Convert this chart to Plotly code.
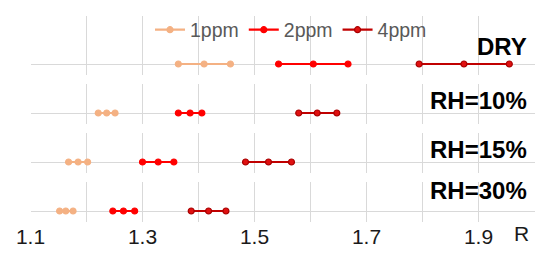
import plotly.graph_objects as go

# ---------------- data ----------------
conditions = ["DRY", "RH=10%", "RH=15%", "RH=30%"]
series_names = ["1ppm", "2ppm", "4ppm"]
r_1ppm = [[1.364, 1.410, 1.457], [1.221, 1.236, 1.251], [1.168, 1.185, 1.202], [1.152, 1.163, 1.176]]
r_2ppm = [[1.543, 1.605, 1.667], [1.364, 1.385, 1.406], [1.300, 1.328, 1.356], [1.247, 1.266, 1.286]]
r_4ppm = [[1.794, 1.874, 1.955], [1.579, 1.612, 1.647], [1.484, 1.525, 1.566], [1.387, 1.418, 1.449]]
tick_vals = [1.1, 1.2, 1.3, 1.4, 1.5, 1.6, 1.7, 1.8, 1.9, 2.0]
tick_text = ["1.1", "", "1.3", "", "1.5", "", "1.7", "", "1.9", ""]
axis_title = "R"

# ---------------- styling ----------------
# the page body has an 8px margin, so the figure sits at (8, 8) in the window
OFF = 8
W, H = 550 - OFF, 256 - OFF
series_data = [r_1ppm, r_2ppm, r_4ppm]
line_colors = ["#F4B183", "#FF0000", "#C00000"]
marker_fill = ["#F4B183", "#FF0000", "#E01010"]
marker_line = ["#F4B183", "#FF0000", "#A80000"]
GRID = "#D9D9D9"
FONT = "Liberation Sans, Arial, sans-serif"


def px(x):
    return (x - OFF) / W


def py(y):
    return 1 - (y - OFF) / H


# panel window-pixel extents (top, bottom, baseline)
panels = [(16, 75, 64), (84, 124, 113), (133, 173, 162), (182, 222, 211)]
label_y = [47, 100, 149, 190]
x_left, x_right = 30.5, 534.5

fig = go.Figure()
for p, cond in enumerate(conditions):
    ax = "" if p == 0 else str(p + 1)
    for s, name in enumerate(series_names):
        fig.add_trace(go.Scatter(
            x=series_data[s][p], y=[0] * len(series_data[s][p]),
            xaxis="x" + ax, yaxis="y" + ax,
            mode="lines+markers", name=name, showlegend=(p == 0),
            line=dict(color=line_colors[s], width=2.2),
            marker=dict(size=6, color=marker_fill[s],
                        line=dict(color=marker_line[s], width=1.2)),
            hoverinfo="x",
        ))
    top, bot, base = panels[p]
    fig.layout["xaxis" + ax] = dict(
        domain=[px(x_left), px(x_right)], range=[1.1, 2.0], anchor="y" + ax,
        tickvals=tick_vals, ticktext=tick_text if p == 3 else [""] * len(tick_vals),
        showticklabels=(p == 3), showgrid=True, gridcolor=GRID, gridwidth=1,
        zeroline=False, showline=False, ticks="", automargin=False,
        tickfont=dict(family=FONT, size=21, color="#1a1a1a"),
    )
    fig.layout["yaxis" + ax] = dict(
        domain=[py(bot), py(top)], range=[-(bot - base), base - top],
        anchor="x" + ax, showgrid=False, showticklabels=False, ticks="",
        zeroline=True, zerolinecolor=GRID, zerolinewidth=1, showline=False,
        automargin=False,
    )
    fig.add_annotation(
        x=px(529), y=py(label_y[p]), xref="paper", yref="paper",
        xanchor="right", yanchor="middle", text="<b>%s</b>" % cond,
        showarrow=False, font=dict(family=FONT, size=24, color="#000000"),
    )

fig.add_annotation(
    x=px(521), y=py(233.5), xref="paper", yref="paper",
    xanchor="center", yanchor="middle", text=axis_title, showarrow=False,
    font=dict(family=FONT, size=21, color="#1a1a1a"),
)

fig.update_layout(
    width=W, height=H, margin=dict(l=0, r=0, t=0, b=0, autoexpand=False),
    paper_bgcolor="white", plot_bgcolor="rgba(0,0,0,0)",
    showlegend=True,
    legend=dict(orientation="h", x=px(291), xanchor="center",
                y=py(30), yanchor="middle", bgcolor="rgba(0,0,0,0)",
                font=dict(family=FONT, size=19.5, color="#595959"),
                itemwidth=30, tracegroupgap=0),
    font=dict(family=FONT),
)

fig.write_html("out.html")
